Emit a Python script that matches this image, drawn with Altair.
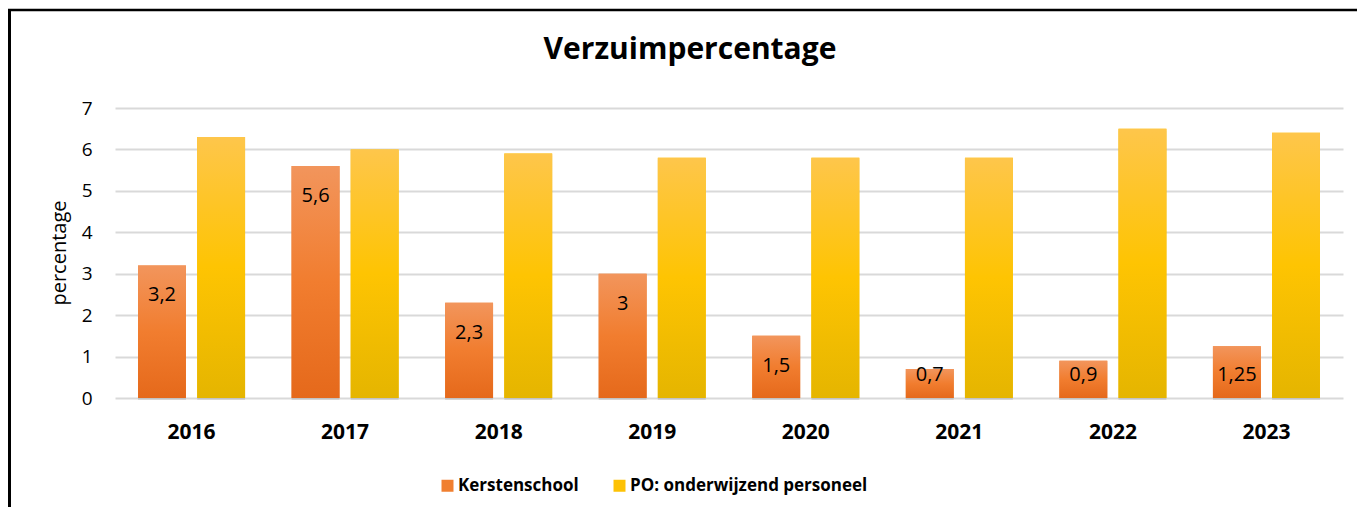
import altair as alt
import pandas as pd

# ---- data ----
years = ["2016", "2017", "2018", "2019", "2020", "2021", "2022", "2023"]
kerstenschool = [3.2, 5.6, 2.3, 3.0, 1.5, 0.7, 0.9, 1.25]
po_personeel = [6.3, 6.0, 5.9, 5.8, 5.8, 5.8, 6.5, 6.4]
series_names = ["Kerstenschool", "PO: onderwijzend personeel"]
chart_title = "Verzuimpercentage"
y_title = "percentage"

rows = []
for i, yr in enumerate(years):
    rows.append({"jaar": yr, "serie": series_names[0], "v": kerstenschool[i]})
    rows.append({"jaar": yr, "serie": series_names[1], "v": po_personeel[i]})
df = pd.DataFrame(rows)

FONT = "Open Sans"
ORANGE = "#F07F30"
YELLOW = "#FDC205"

x_enc = alt.X("jaar:N", sort=years, title=None,
              scale=alt.Scale(paddingInner=0.303, paddingOuter=0.15),
              axis=alt.Axis(labelFont=FONT, labelFontSize=21, labelFontWeight="bold",
                            labelColor="#000000", labelAngle=0, ticks=False, domain=False,
                            labelBaseline="alphabetic", labelPadding=40, grid=False))
xo_enc = alt.XOffset("serie:N", sort=series_names,
                     scale=alt.Scale(paddingInner=0.19, paddingOuter=0))
y_enc = alt.Y("v:Q", title=None,
              scale=alt.Scale(domain=[0, 7], nice=False),
              axis=alt.Axis(values=[0, 1, 2, 3, 4, 5, 6, 7], labelFont=FONT, labelFontSize=19,
                            labelColor="#000000", ticks=False, domain=False, labelPadding=23,
                            gridColor="#D9D9D9", gridWidth=2))

base = alt.Chart(df)

shadow = base.mark_bar(color="#000000", opacity=0.10, xOffset=2, yOffset=2).encode(
    x=x_enc, xOffset=xo_enc, y=y_enc)

solid = base.mark_bar().encode(
    x=alt.X("jaar:N", sort=years), xOffset=alt.XOffset("serie:N", sort=series_names), y="v:Q",
    color=alt.Color("serie:N", sort=series_names,
                    scale=alt.Scale(domain=series_names, range=[ORANGE, YELLOW]),
                    legend=alt.Legend(title=None, orient="none", legendX=324, legendY=369,
                                      direction="horizontal", columns=2,
                                      symbolType="square", symbolSize=144, symbolStrokeWidth=0,
                                      labelFont=FONT, labelFontSize=17, labelFontWeight="bold",
                                      labelColor="#000000", labelOffset=2, columnPadding=32,
                                      labelLimit=400)),
)

grad_orange = alt.Gradient(gradient="linear", x1=0, x2=0, y1=0, y2=1, stops=[
    alt.GradientStop(color="#F2955C", offset=0),
    alt.GradientStop(color="#F17D2F", offset=0.5),
    alt.GradientStop(color="#E5691B", offset=1)])
grad_yellow = alt.Gradient(gradient="linear", x1=0, x2=0, y1=0, y2=1, stops=[
    alt.GradientStop(color="#FEC64B", offset=0),
    alt.GradientStop(color="#FEC402", offset=0.5),
    alt.GradientStop(color="#E5B500", offset=1)])

g1 = base.transform_filter(alt.datum.serie == series_names[0]).mark_bar(color=grad_orange).encode(
    x=alt.X("jaar:N", sort=years), xOffset=alt.XOffset("serie:N", sort=series_names), y="v:Q")
g2 = base.transform_filter(alt.datum.serie == series_names[1]).mark_bar(color=grad_yellow).encode(
    x=alt.X("jaar:N", sort=years), xOffset=alt.XOffset("serie:N", sort=series_names), y="v:Q")

labels = base.transform_filter(alt.datum.serie == series_names[0]).transform_calculate(
    lab="replace(toString(datum.v), '.', ',')",
    ly="max(datum.v - 0.87, 0.41)",
).mark_text(font=FONT, fontSize=20, color="#000000", baseline="alphabetic", align="center").encode(
    x=alt.X("jaar:N", sort=years), xOffset=alt.XOffset("serie:N", sort=series_names),
    y=alt.Y("ly:Q"), text="lab:N")

deco = pd.DataFrame({"t": [chart_title], "yt": [y_title]})
title_txt = alt.Chart(deco).mark_text(font=FONT, fontSize=30, fontWeight="bold", color="#000000",
                                      baseline="alphabetic", align="center").encode(
    text="t:N", x=alt.value(575), y=alt.value(-49))
ytitle_txt = alt.Chart(deco).mark_text(font=FONT, fontSize=20, color="#000000", angle=270,
                                       baseline="middle", align="center").encode(
    text="yt:N", x=alt.value(-55), y=alt.value(145))
border_left = alt.Chart(deco).mark_rule(color="#000000", strokeWidth=3).encode(
    x=alt.value(-105.5), y=alt.value(-99), y2=alt.value(399))
border_top = alt.Chart(deco).mark_rule(color="#000000", strokeWidth=2.5).encode(
    x=alt.value(-107), x2=alt.value(1242), y=alt.value(-98))

chart = alt.layer(shadow, solid, g1, g2, labels, title_txt, ytitle_txt, border_left, border_top).properties(
    width=1228, height=290,
    padding={"left": 107, "top": 100, "right": 14, "bottom": 109},
    autosize=alt.AutoSizeParams(type="none"),
    background="#FFFFFF",
).configure_view(stroke=None)

chart.save("out.html", embed_options={"renderer": "svg", "actions": False})
